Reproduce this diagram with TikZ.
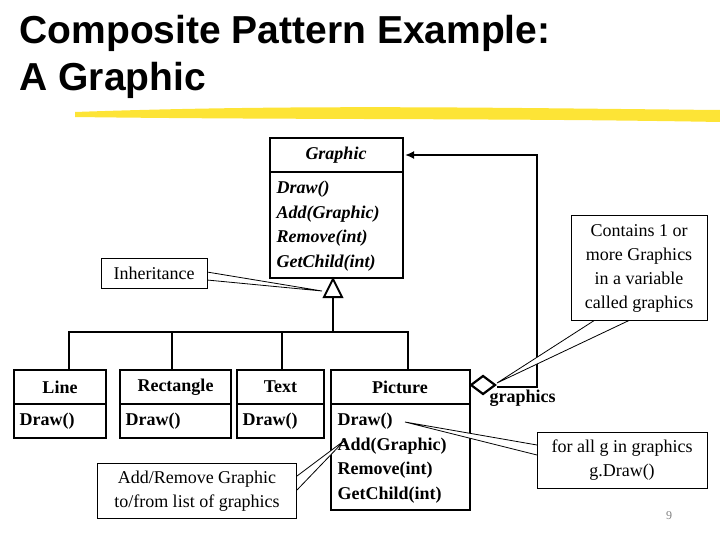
\documentclass[tikz,border=0pt]{standalone}
\usepackage{fontspec}
\setmainfont{Liberation Serif}
\newfontfamily\titlefont{Liberation Sans}
\usetikzlibrary{positioning, arrows.meta}
\tikzset{
  cls/.style={draw, line width=2.2pt},
  callout/.style={draw, line width=0.8pt, fill=white},
  note/.style={align=center, font=\fontsize{18}{24}\selectfont},
  meth/.style={anchor=west, font=\fontsize{18}{24.5}\selectfont\bfseries},
  cname/.style={font=\fontsize{18}{20}\selectfont\bfseries},
}
\begin{document}
\begin{tikzpicture}[x=1pt,y=-1pt]
    \useasboundingbox (0,0) rectangle (720,540);

    % title
    \node[anchor=west, font=\titlefont\fontsize{39}{44}\selectfont\bfseries] (t1) at (16,33) {Composite Pattern Example:};
    \node[anchor=west, font=\titlefont\fontsize{39}{44}\selectfont\bfseries] (t2) at (16,80) {A Graphic};
    \fill[yellow!80!orange, opacity=0.8] (75,112) .. controls (300,104) and (500,108) .. (720,110)
        -- (720,122) .. controls (500,118) and (300,120) .. (75,117) -- cycle;

    % Graphic
    \draw[cls] (270,138) rectangle (403,278);
    \draw[cls] (270,172) -- (403,172);
    \node[cname, font=\fontsize{18}{20}\selectfont\bfseries\itshape] (graphic) at (336,155) {Graphic};
    \node[meth, font=\fontsize{18}{24.5}\selectfont\bfseries\itshape, align=left] (gmeth) at (273,226)
        {Draw()\\Add(Graphic)\\Remove(int)\\GetChild(int)};

    % inheritance
    \coordinate (tri) at (333,297);
    \draw[line width=2pt, fill=white] (333,279) -- (342,297) -- (324,297) -- cycle;
    \draw[line width=2.2pt] (tri) -- (333,332);
    \draw[line width=2.2pt] (69,370) -- (69,332) -- (408,332) -- (408,370);
    \foreach \x in {172,282} \draw[line width=2.2pt] (\x,332) -- (\x,370);

    % subclasses
    \foreach \l/\r/\n in {14/106/Line, 120/231/Rectangle, 237/324/Text} {
      \draw[cls] (\l,370) rectangle (\r,438);
      \draw[cls] (\l,404) -- (\r,404);
      \node[cname] at ({(\l+\r)/2},387) {\n};
      \node[meth] at (\l+2,421) {Draw()};
    }
    \draw[cls] (331,370) rectangle (470,510);
    \draw[cls] (331,404) -- (470,404);
    \node[cname] (picture) at (400,387) {Picture};
    \node[meth, align=left] (pmeth) at (334,458)
        {Draw()\\Add(Graphic)\\Remove(int)\\GetChild(int)};

    % aggregation
    \coordinate (dia) at (483,385);
    \draw[line width=2.2pt, -{Latex[length=9pt,width=8pt]}] (497,387) -- (537,387) -- (537,155) -- (405,155);
    \draw[line width=2.2pt, fill=white] (471,385) -- (483,376) -- (495,385) -- (483,394) -- cycle;
    \node[cname, anchor=west] (graphics) at (486,398) {graphics};

    % notes
    \draw[callout] (207,272) -- (322,291) -- (207,280);
    \node[draw, line width=0.8pt, note, minimum width=106pt, minimum height=30pt, fill=white] (inh) at (154,273) {Inheritance};
    \draw[callout] (595,320) -- (497,383) -- (630,320);
    \node[draw, line width=0.8pt, note, minimum width=136pt, minimum height=105pt, fill=white] (contains) at (639,268)
        {Contains 1 or\\more Graphics\\in a variable\\called graphics};
    \draw[callout] (537,445) -- (405,422) -- (537,455);
    \node[draw, line width=0.8pt, note, minimum width=170pt, minimum height=56pt, fill=white] (forall) at (622,460)
        {for all g in graphics\\g.Draw()};
    \draw[callout] (297,476) -- (345,440) -- (297,490);
    \node[draw, line width=0.8pt, note, minimum width=199pt, minimum height=55pt, fill=white] (addrem) at (197,491)
        {Add/Remove Graphic\\to/from list of graphics};

    \node[font=\fontsize{12}{14}\selectfont, text=gray] (pg) at (669,516) {9};
\end{tikzpicture}
\end{document}
